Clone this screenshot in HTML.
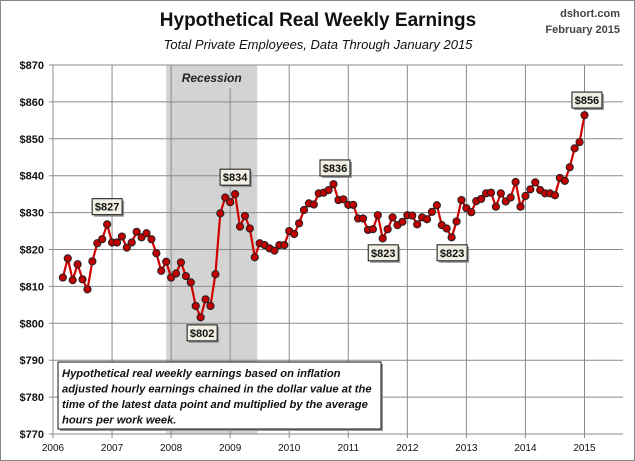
<!DOCTYPE html>
<html><head><meta charset="utf-8"><style>
body{margin:0;background:#fff;}
svg{display:block;font-family:"Liberation Sans",sans-serif;}
</style></head><body>
<svg id="c" width="635" height="461">
<rect x="0.5" y="0.5" width="634" height="460" fill="#fff" stroke="#888"/>
<text x="318" y="26" text-anchor="middle" font-size="19" font-weight="bold" fill="#111">Hypothetical Real Weekly Earnings</text>
<text x="318" y="49" text-anchor="middle" font-size="13" font-style="italic" fill="#111">Total Private Employees, Data Through January 2015</text>
<text x="620" y="17" text-anchor="end" font-size="11" font-weight="bold" fill="#444">dshort.com</text>
<text x="620" y="33" text-anchor="end" font-size="11" font-weight="bold" fill="#444">February 2015</text>
<g id="grid"></g>
<g id="marks"></g>
<g id="labels"></g>
</svg>
<script>
const yearTicks=[2006,2007,2008,2009,2010,2011,2012,2013,2014,2015];
const yTicks=[770,780,790,800,810,820,830,840,850,860,870];
const startMonth=2; // March 2006, months since Jan 2006
const values=[812.4,817.6,811.7,816.0,811.9,809.2,816.8,821.7,822.8,826.8,
821.9,821.9,823.5,820.5,821.9,824.8,823.3,824.4,822.8,819.0,814.2,816.7,
812.4,813.5,816.5,812.8,811.1,804.7,801.6,806.5,804.7,813.3,829.8,
834.1,832.8,835.0,826.2,829.1,825.7,817.9,821.7,821.2,820.3,819.7,821.2,
821.2,825.0,824.2,827.1,830.7,832.5,832.2,835.2,835.4,836.1,837.7,833.4,833.6,
832.1,832.1,828.4,828.4,825.3,825.5,829.3,823.0,825.5,828.7,826.6,827.5,829.3,829.2,
826.8,828.7,828.2,830.2,832.0,826.6,825.7,823.3,827.6,833.4,831.2,830.1,
833.1,833.7,835.2,835.4,831.6,835.2,833.0,834.1,838.3,831.6,834.5,836.3,
838.2,836.1,835.2,835.2,834.7,839.4,838.6,842.3,847.4,849.1,856.4];
const recession=[23,41.5]; // months since Jan 2006 (Dec 2007 - Jun 2009)
const callouts=[{m:11,v:831.6,t:"$827"},{m:30.3,v:797.4,t:"$802"},{m:37,v:839.6,t:"$834"},
{m:57.3,v:842.1,t:"$836"},{m:67.1,v:819.1,t:"$823"},{m:81.1,v:819.1,t:"$823"},{m:108.5,v:860.5,t:"$856"}];
const L=53,R=623,T=65,B=434;
const X=m=>L+m*(584.5-53)/108;
const Y=v=>B-(v-770)*(B-T)/100;
const NS="http://www.w3.org/2000/svg";
function mk(tag,at,parent){const e=document.createElementNS(NS,tag);for(const k in at)e.setAttribute(k,at[k]);parent.appendChild(e);return e;}
const g=document.getElementById('grid'),mg=document.getElementById('marks'),lg=document.getElementById('labels');
const rec=mk('rect',{x:X(recession[0]),y:T,width:X(recession[1])-X(recession[0]),height:B-T,fill:"#d3d3d3"},g);


const rt=mk('text',{x:(X(recession[0])+X(recession[1]))/2,y:82,'text-anchor':'middle','font-size':12,'font-weight':'bold','font-style':'italic',fill:'#222'},g);
rt.textContent="Recession";


yTicks.forEach(v=>{
 const l=mk('line',{x1:L-4,x2:R,y1:Y(v),y2:Y(v),stroke:'#8a8a8a','stroke-width':1},g);
 
 
 const t=mk('text',{x:44,y:Y(v)+4,'text-anchor':'end','font-size':11,'font-weight':'bold',fill:'#111'},g);
 t.textContent="$"+v;
 
 
});
yearTicks.forEach(yr=>{
 const x=X((yr-2006)*12);
 const l=mk('line',{x1:x,x2:x,y1:(yr===2009?88:T),y2:B+4,stroke:'#8a8a8a','stroke-width':1},g);
 
 
 const t=mk('text',{x:x,y:451,'text-anchor':'middle','font-size':10,fill:'#111'},g);
 t.textContent=yr;
 
 
});
const pts=values.map((v,i)=>[X(startMonth+i),Y(v)]);
const pl=mk('polyline',{points:pts.map(p=>p.join(',')).join(' '),fill:'none',stroke:'#d00000','stroke-width':2.2},mg);


pts.forEach(p=>{
 const c=mk('circle',{cx:p[0],cy:p[1],r:3.6,fill:'#c00000',stroke:'#222','stroke-width':1},mg);
 
 
});
callouts.forEach(c=>{
 const cx=X(c.m),cy=Y(c.v);
 const s=mk('rect',{x:cx-13,y:cy-6,width:30,height:16,fill:'#999'},lg);
 
 
 const r=mk('rect',{x:cx-15,y:cy-8,width:30,height:16,fill:'#f2f0e4',stroke:'#111','stroke-width':1},lg);
 
 
 const t=mk('text',{x:cx,y:cy+4,'text-anchor':'middle','font-size':11,'font-weight':'bold',fill:'#111'},lg);
 t.textContent=c.t;
 
 
});
const ns=mk('rect',{x:60,y:364,width:323,height:67,fill:'#999'},lg);


const nb=mk('rect',{x:58,y:362,width:323,height:67,fill:'#fff',stroke:'#111','stroke-width':1},lg);


["Hypothetical real weekly earnings  based on inflation","adjusted hourly earnings chained in the dollar value at the","time of the latest data point and multiplied by the average","hours per work week."].forEach((s,i)=>{
 const t=mk('text',{x:62,y:377+i*15.5,'font-size':11.2,'font-weight':'bold','font-style':'italic',fill:'#111'},lg);
 t.textContent=s;
 
 
});
</script>
</body></html>
